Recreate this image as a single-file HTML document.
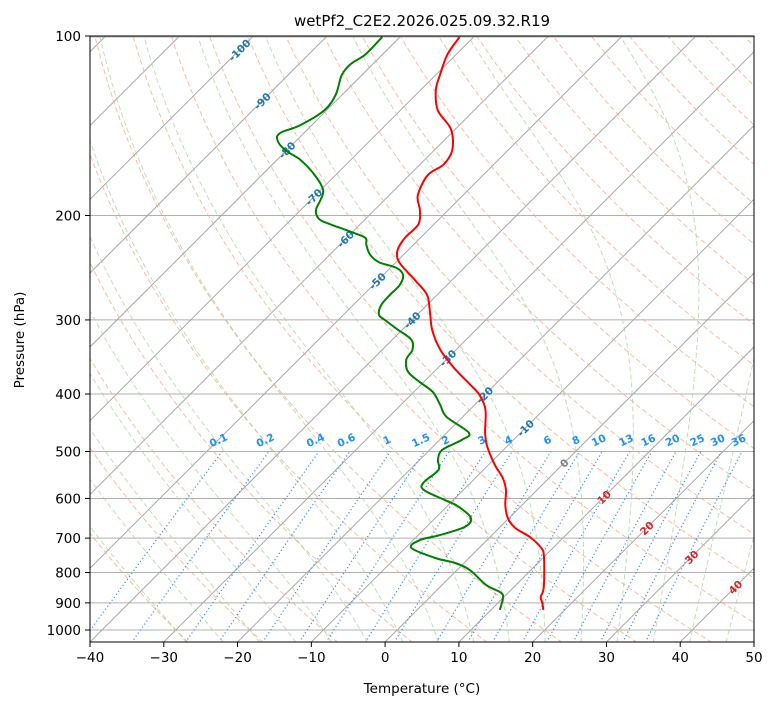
<!DOCTYPE html>
<html><head><meta charset="utf-8"><style>
body{margin:0;background:#fff;}
svg{display:block;font-family:"DejaVu Sans","Liberation Sans",sans-serif;}
</style></head><body>
<svg id="c" width="775" height="708" xmlns="http://www.w3.org/2000/svg">
<defs><clipPath id="clip"><rect x="90" y="36" width="664" height="606"/></clipPath></defs>
<rect width="775" height="708" fill="#fff"/>
<g id="plot" clip-path="url(#clip)"></g>
<g id="axes"></g>
<text x="422" y="26" font-size="15" text-anchor="middle">wetPf2_C2E2.2026.025.09.32.R19</text>
<text x="422" y="693" font-size="13.5" text-anchor="middle">Temperature (°C)</text>
<text x="24" y="340" font-size="13.5" text-anchor="middle" transform="rotate(-90 24 340)">Pressure (hPa)</text>
</svg>
<script>
// ---- data ----
const tempP = [925,900,880,856,808,747,727,697,673,647,615,581,554,527,491,465,426,402,386,362,337,312,289,272,257,240,229,218,207,196,185,171,164,155,143,133,123,116,107,100];
const tempT = [17.1,16.0,15.0,14.4,12.5,9.7,8.4,5.4,2.2,-0.2,-2.3,-4.2,-6.3,-9.1,-12.6,-14.8,-17.8,-20.6,-23.3,-27.7,-32.1,-35.9,-38.9,-41.4,-45.0,-49.5,-51.4,-52.1,-52.1,-53.8,-56.1,-57.5,-56.8,-57.6,-60.6,-64.9,-67.9,-69.4,-71.2,-71.9];
const dewP = [925,880,863,840,792,771,756,727,705,692,670,647,618,604,581,565,537,517,497,478,465,437,417,397,382,367,350,337,324,312,300,294,283,272,262,252,245,240,233,224,218,213,207,203,196,188,181,171,161,155,149,145,141,133,125,116,111,107,100];
const dewT = [11.2,9.9,8.8,6.0,1.7,-1.2,-4.6,-9.2,-9.1,-7.1,-4.8,-5.2,-8.6,-11.1,-15.3,-16.4,-16.1,-17.5,-18.3,-17.0,-17.0,-22.2,-24.7,-27.4,-30.5,-33.5,-35.4,-35.9,-37.4,-40.5,-43.7,-45.2,-46.2,-46.4,-46.4,-47.3,-49.2,-52.2,-54.5,-56.4,-57.5,-60.3,-64.0,-66.2,-67.9,-68.7,-69.7,-72.8,-76.9,-80.3,-82.7,-83.2,-81.6,-80.3,-80.9,-82.7,-83.0,-82.3,-82.4];
const xTicks = [-40,-30,-20,-10,0,10,20,30,40,50];
const pTicks = [100,200,300,400,500,600,700,800,900,1000];
const mixVals = [0.1,0.2,0.4,0.6,1,1.5,2,3,4,6,8,10,13,16,20,25,30,36];
const isoLabels = [-100,-90,-80,-70,-60,-50,-40,-30,-20,-10,0,10,20,30,40];

// ---- axes ----
const X0=90,X1=754,Y0=36,Y1=642,PX=664/90;
const YB=642;
function py(p){return 37+593*Math.log10(p/100);}
function tx(T,y){return X0+(T+40)*PX+(YB-y);}
const NS="http://www.w3.org/2000/svg";
const plot=document.getElementById('plot'),axes=document.getElementById('axes');
function mk(tag,attrs,parent){const e=document.createElementNS(NS,tag);for(const k in attrs)e.setAttribute(k,attrs[k]);parent.appendChild(e);return e;}
function pathFrom(ps,Ts){let d='';for(let i=0;i<ps.length;i++){const y=py(ps[i]);d+=(i?'L':'M')+tx(Ts[i],y).toFixed(1)+','+y.toFixed(1);}return d;}
function smoothFrom(ps,Ts){const pts=ps.map((p,i)=>{const y=py(p);return [tx(Ts[i],y),y];});
let d='M'+pts[0][0].toFixed(1)+','+pts[0][1].toFixed(1);
for(let i=0;i<pts.length-1;i++){const p0=pts[Math.max(0,i-1)],p1=pts[i],p2=pts[i+1],p3=pts[Math.min(pts.length-1,i+2)];
const c1=[p1[0]+(p2[0]-p0[0])/6,p1[1]+(p2[1]-p0[1])/6],c2=[p2[0]-(p3[0]-p1[0])/6,p2[1]-(p3[1]-p1[1])/6];
d+='C'+c1[0].toFixed(1)+','+c1[1].toFixed(1)+' '+c2[0].toFixed(1)+','+c2[1].toFixed(1)+' '+p2[0].toFixed(1)+','+p2[1].toFixed(1);}
return d;}
const pres=[];for(let p=1050;p>=100;p-=10)pres.push(p);

pTicks.forEach(p=>{const y=py(p);const l=mk('line',{x1:X0,x2:X1,y1:y,y2:y,stroke:'#b0b0b0','stroke-width':1},plot);

});
for(let T=-170;T<=50;T+=10){const l=mk('line',{x1:tx(T,YB),y1:YB,x2:tx(T,Y0),y2:Y0,stroke:'#a8a8a8','stroke-width':1},plot);

}
for(let th=-30;th<=200;th+=10){const Ts=pres.map(p=>(th+273.15)*Math.pow(p/1000,0.2857)-273.15);
const e=mk('path',{d:pathFrom(pres,Ts),fill:'none',stroke:'#f4a582','stroke-width':1,'stroke-dasharray':'5,3',opacity:0.75},plot);

}
function es(T){return 6.112*Math.exp(17.67*T/(T+243.5));}
function moist(T0){const ps=[],Ts=[];
function dTdp(T,p){const e=es(T-273.15);const rs=0.622*e/(p-e);const Rd=287,Lv=2.5e6,Cp=1005;
return (Rd*T+Lv*rs)/(p*(Cp+Lv*Lv*rs*0.622/(Rd*T*T)));}
let Tc=T0+273.15;let pc=1000;
for(;pc<1050;pc+=5){Tc+=dTdp(Tc,pc)*5;}
for(pc=1050;pc>=100;pc-=5){ps.push(pc);Ts.push(Tc-273.15);Tc-=dTdp(Tc,pc)*5;}
return [ps,Ts];}
for(let t0=-30;t0<=45;t0+=5){const [ps,Ts]=moist(t0);
const e=mk('path',{d:pathFrom(ps,Ts),fill:'none',stroke:'#9fd19a','stroke-width':1,'stroke-dasharray':'5,3',opacity:0.7},plot);

}
mixVals.forEach(w=>{const ps=[],Ts=[];for(let p=1050;p>=500;p-=10){const e=p*w/(622+w);const l=Math.log(e/6.112);ps.push(p);Ts.push(243.5*l/(17.67-l));}
const e=mk('path',{d:pathFrom(ps,Ts),fill:'none',stroke:'#3b8ef0','stroke-width':1.2,'stroke-dasharray':'1.2,2.5'},plot);


const y=py(500)-8,x=tx(Ts[Ts.length-1],py(500))-2;
const t=mk('text',{x:x,y:y,'font-size':10.5,'font-weight':'bold',fill:'#1e90ff','text-anchor':'middle',transform:`rotate(-25 ${x} ${y})`},plot);t.textContent=String(w);

});
const labY=[50,101,150,197,239,281,320,358,395,428,463,497,528,557,587];
isoLabels.forEach((T,i)=>{const y=labY[i]+4,x=tx(T,labY[i]);
const col=T<0?'#1f77b4':(T===0?'#808080':'#d62728');
const t=mk('text',{x:x,y:y,'font-size':10.5,'font-weight':'bold',fill:col,'text-anchor':'middle',transform:`rotate(-45 ${x} ${labY[i]})`},plot);t.textContent=String(T);

});
const tl=mk('path',{d:smoothFrom(tempP,tempT),fill:'none',stroke:'#ff0000','stroke-width':2,'stroke-linejoin':'round'},plot);


const dl=mk('path',{d:smoothFrom(dewP,dewT),fill:'none',stroke:'#008000','stroke-width':2,'stroke-linejoin':'round'},plot);


const fr=mk('rect',{x:X0,y:Y0,width:X1-X0,height:Y1-Y0,fill:'none',stroke:'#000','stroke-width':1},axes);


xTicks.forEach(T=>{const x=X0+(T+40)*PX;mk('line',{x1:x,x2:x,y1:Y1,y2:Y1+5,stroke:'#000'},axes);
const t=mk('text',{x:x,y:Y1+20,'font-size':13.5,'text-anchor':'middle'},axes);t.textContent=T<0?'\u2212'+(-T):String(T);

});
pTicks.forEach(p=>{const y=p===100?Y0:py(p);mk('line',{x1:X0-5,x2:X0,y1:y,y2:y,stroke:'#000'},axes);
const t=mk('text',{x:X0-9,y:y+5,'font-size':13.5,'text-anchor':'end'},axes);t.textContent=String(p);

});
</script>
</body></html>
